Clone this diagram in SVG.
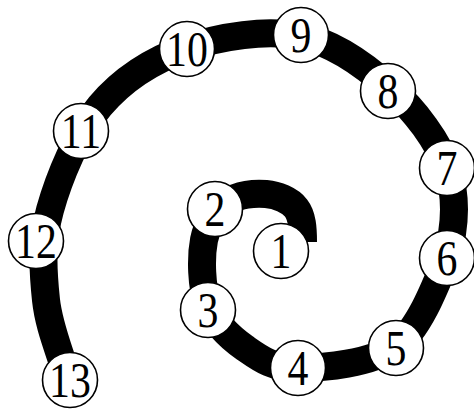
<svg xmlns="http://www.w3.org/2000/svg" width="474" height="411" viewBox="0 0 474 411">
<style>
.band{fill:none;stroke:#000;stroke-width:28;stroke-linecap:butt;stroke-linejoin:round}
.node circle{fill:#fff;stroke:#000;stroke-width:1.6}
.node text{font-family:"Liberation Serif","Times New Roman",serif;font-size:51px;fill:#000;text-anchor:middle}
</style>
<rect width="474" height="411" fill="#fff"/>
<g id="connectors">
<path class="band" d="M303 242 C303 228 302.2 216 296 208 C289.8 200 277.3 195 266 194 C254.7 193 238.3 194.3 228 202 C217.7 209.7 207.3 222.8 204 240 C200.7 257.2 201.2 287 208 305 C214.8 323 230 337.5 245 348 C260 358.5 272.8 368.3 298 368 C323.2 367.7 371.3 364 396 346 C418 330 434 290 446 260 C454.7 230.7 457.3 198.7 448 170 C438.7 141.3 414.7 110.3 390 88 C365.3 65.7 333.8 42.7 300 36 C266.2 29.3 220.3 36.3 187 48 C153.7 59.7 122.8 79 100 106 C77.2 133 59 177.7 50 210 C41 242.3 43 271.7 46 300 C49 328.3 60.7 353.3 68 380"/>
</g>
<g id="n1" class="node"><circle cx="281" cy="251" r="27.5"/><text transform="translate(281 268) scale(0.82 1)">1</text></g>
<g id="n2" class="node"><circle cx="215" cy="209" r="27.5"/><text transform="translate(215 226) scale(0.82 1)">2</text></g>
<g id="n3" class="node"><circle cx="208" cy="310" r="27.5"/><text transform="translate(208 327) scale(0.82 1)">3</text></g>
<g id="n4" class="node"><circle cx="298" cy="368" r="27.5"/><text transform="translate(298 385) scale(0.82 1)">4</text></g>
<g id="n5" class="node"><circle cx="396" cy="348" r="27.5"/><text transform="translate(396 365) scale(0.82 1)">5</text></g>
<g id="n6" class="node"><circle cx="447" cy="258" r="27.5"/><text transform="translate(447 275) scale(0.82 1)">6</text></g>
<g id="n7" class="node"><circle cx="447" cy="168" r="27.5"/><text transform="translate(447 185) scale(0.82 1)">7</text></g>
<g id="n8" class="node"><circle cx="388" cy="91" r="27.5"/><text transform="translate(388 108) scale(0.82 1)">8</text></g>
<g id="n9" class="node"><circle cx="301" cy="35" r="27.5"/><text transform="translate(301 52) scale(0.82 1)">9</text></g>
<g id="n10" class="node"><circle cx="187" cy="49" r="27.5"/><text transform="translate(187 66) scale(0.82 1)">10</text></g>
<g id="n11" class="node"><circle cx="81" cy="131" r="27.5"/><text transform="translate(81 148) scale(0.82 1)">11</text></g>
<g id="n12" class="node"><circle cx="36" cy="241" r="27.5"/><text transform="translate(36 258) scale(0.82 1)">12</text></g>
<g id="n13" class="node"><circle cx="70" cy="380" r="27.5"/><text transform="translate(70 397) scale(0.82 1)">13</text></g>
</svg>
